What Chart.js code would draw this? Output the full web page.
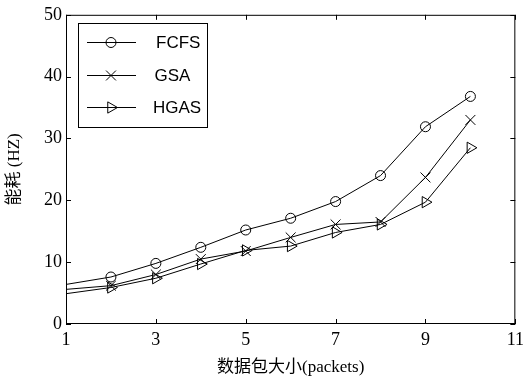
<!DOCTYPE html>
<html>
<head>
<meta charset="utf-8">
<script src="https://cdn.jsdelivr.net/npm/chart.js@4/dist/chart.umd.min.js"></script>
<style>
  html, body { margin: 0; padding: 0; background: #fff; }
  #wrap { width: 529px; height: 380px; }
</style>
</head>
<body>
<div id="wrap"><canvas id="chart" width="529" height="380"></canvas></div>
<script>
// data
const packetSizes = [1, 2, 3, 4, 5, 6, 7, 8, 9, 10];
const fcfsValues = [6.4, 7.6, 9.8, 12.4, 15.2, 17.1, 19.8, 24.0, 31.9, 36.8];
const gsaValues  = [5.6, 6.2, 8.0, 10.5, 11.8, 14.0, 16.1, 16.5, 23.7, 33.0];
const hgasValues = [4.9, 5.9, 7.4, 9.7, 11.9, 12.6, 14.8, 16.1, 19.7, 28.5];
const xTickValues = [1, 3, 5, 7, 9, 11];
const yTickValues = [0, 10, 20, 30, 40, 50];
const seriesNames = ['FCFS', 'GSA', 'HGAS'];

const serif = '"Liberation Serif", "Times New Roman", "DejaVu Serif", serif';
const cjk = '"Liberation Serif", "Noto Sans CJK SC", serif';

function toPoints(vals) {
    return vals.map((v, i) => ({ x: packetSizes[i], y: v }));
}
// no marker on the first point
const markerSize = r => packetSizes.map((p, i) => i === 0 ? 0 : r);

function makeSet(label, vals, style, rot, r) {
    return {
        label: label,
        data: toPoints(vals),
        borderColor: '#000',
        backgroundColor: 'rgba(0,0,0,0)',
        borderWidth: 1,
        pointStyle: style,
        pointRotation: rot,
        pointRadius: markerSize(r),
        legendRadius: r,
        pointBorderColor: '#000',
        pointBorderWidth: 1,
        pointBackgroundColor: 'rgba(0,0,0,0)',
        tension: 0
    };
}

// inward ticks on all four sides, the box and the legend
const frame = {
    id: 'frame',
    afterDraw(chart) {
        const ctx = chart.ctx;
        const a = chart.chartArea;
        const xs = chart.scales.x, ys = chart.scales.y;
        ctx.save();
        ctx.strokeStyle = '#000';
        ctx.lineWidth = 1;
        ctx.strokeRect(a.left + 0.5, a.top + 0.5, a.right - a.left - 1, a.bottom - a.top - 1);
        ctx.beginPath();
        xTickValues.forEach(v => {
            const px = Math.round(xs.getPixelForValue(v)) + 0.5;
            ctx.moveTo(px, a.bottom); ctx.lineTo(px, a.bottom - 5);
            ctx.moveTo(px, a.top); ctx.lineTo(px, a.top + 5);
        });
        yTickValues.forEach(v => {
            const py = Math.round(ys.getPixelForValue(v)) + 0.5;
            ctx.moveTo(a.left, py); ctx.lineTo(a.left + 5, py);
            ctx.moveTo(a.right, py); ctx.lineTo(a.right - 5, py);
        });
        ctx.stroke();

        const bx = 78, by = 23, bw = 129, bh = 104;
        ctx.fillStyle = '#fff';
        ctx.fillRect(bx, by, bw, bh);
        ctx.strokeRect(bx + 0.5, by + 0.5, bw, bh);
        const rows = [42, 75, 107];
        chart.data.datasets.forEach((ds, i) => {
            const y = rows[i] + 0.5;
            ctx.beginPath();
            ctx.moveTo(87, y); ctx.lineTo(136, y);
            ctx.stroke();
            ctx.fillStyle = 'rgba(0,0,0,0)';
            Chart.helpers.drawPoint(ctx, {
                pointStyle: ds.pointStyle,
                rotation: ds.pointRotation,
                radius: ds.legendRadius,
                borderWidth: 1
            }, 111, y);
            ctx.fillStyle = '#000';
            ctx.font = '17px "Liberation Sans", Arial, sans-serif';
            ctx.textBaseline = 'middle';
            ctx.textAlign = 'left';
            ctx.fillText(ds.label, 156 - i * 1.5, y + 1);
        });
        ctx.restore();
    }
};

new Chart(document.getElementById('chart').getContext('2d'), {
    type: 'line',
    data: {
        datasets: [
            makeSet(seriesNames[0], fcfsValues, 'circle', 0, 5),
            makeSet(seriesNames[1], gsaValues, 'crossRot', 0, 7),
            makeSet(seriesNames[2], hgasValues, 'triangle', 90, 6.5)
        ]
    },
    options: {
        responsive: false,
        animation: false,
        layout: { padding: { top: 14, right: 8, left: 0, bottom: 0 } },
        plugins: {
            legend: { display: false },
            tooltip: { enabled: false }
        },
        scales: {
            x: {
                type: 'linear',
                min: 1,
                max: 11,
                afterBuildTicks: s => { s.ticks = xTickValues.map(v => ({ value: v })); },
                afterFit: s => { s.height = 56; },
                grid: { display: false, drawTicks: false },
                border: { display: false },
                ticks: {
                    color: '#000',
                    padding: 5,
                    maxRotation: 0,
                    font: { family: serif, size: 18 }
                },
                title: {
                    display: true,
                    text: '数据包大小(packets)',
                    color: '#000',
                    padding: { top: 0, bottom: 2 },
                    font: { family: cjk, size: 17 }
                }
            },
            y: {
                min: 0,
                max: 50,
                afterBuildTicks: s => { s.ticks = yTickValues.map(v => ({ value: v })); },
                afterFit: s => { s.width = 66; },
                grid: { display: false, drawTicks: false },
                border: { display: false },
                ticks: {
                    color: '#000',
                    padding: 4,
                    font: { family: serif, size: 18 }
                },
                title: {
                    display: true,
                    text: '能耗 (HZ)',
                    color: '#000',
                    padding: { top: 4, bottom: 0 },
                    font: { family: cjk, size: 17 }
                }
            }
        }
    },
    plugins: [frame]
});
</script>
</body>
</html>
